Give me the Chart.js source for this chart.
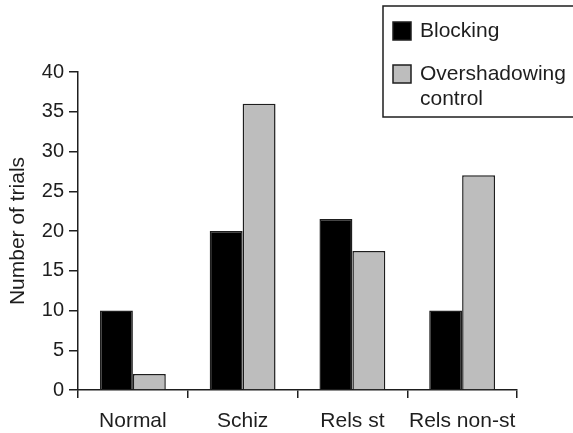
<!DOCTYPE html>
<html>
<head>
<meta charset="utf-8">
<script src="https://cdn.jsdelivr.net/npm/chart.js@4.4.1/dist/chart.umd.min.js"></script>
<style>
  html, body { margin: 0; padding: 0; background: #fff; }
  #wrap { width: 573px; height: 433px; position: relative; }
</style>
</head>
<body>
<div id="wrap"><canvas id="chart" width="573" height="433"></canvas></div>
<script>
// data
const groups = ["Normal", "Schiz", "Rels st", "Rels non-st"];
const blocking = [10, 20, 21.5, 10];
const overshadowing = [2, 36, 17.5, 27];
const yTicks = [0, 5, 10, 15, 20, 25, 30, 35, 40];
const seriesNames = [["Blocking"], ["Overshadowing", "control"]];

const FONT = "'Liberation Sans', Arial, Helvetica, sans-serif";
const INK = "#1e1e1e";

// boxed legend in the top right corner (runs off the right edge)
const boxLegend = {
  id: "boxLegend",
  afterDraw(chart) {
    const ctx = chart.ctx;
    ctx.save();
    ctx.strokeStyle = INK;
    ctx.lineWidth = 1.5;
    ctx.strokeRect(383, 6, 230, 111);
    ctx.font = "21px " + FONT;
    ctx.textBaseline = "middle";
    let y = 31;
    chart.data.datasets.forEach((ds, i) => {
      ctx.fillStyle = ds.backgroundColor;
      ctx.fillRect(393, y - 9, 18, 18);
      ctx.strokeStyle = INK;
      ctx.lineWidth = 1.5;
      ctx.strokeRect(393, y - 9, 18, 18);
      ctx.fillStyle = INK;
      seriesNames[i].forEach((line, j) => {
        ctx.fillText(line, 420, y + j * 25);
      });
      y += 43;
    });
    ctx.restore();
  }
};

new Chart(document.getElementById("chart"), {
  type: "bar",
  data: {
    labels: groups,
    datasets: [
      {
        label: "Blocking",
        data: blocking,
        backgroundColor: "#000000",
        borderColor: INK,
        borderWidth: 1.5,
        categoryPercentage: 0.6,
        barPercentage: 1.0
      },
      {
        label: "Overshadowing control",
        data: overshadowing,
        backgroundColor: "#bdbdbd",
        borderColor: INK,
        borderWidth: 1.5,
        categoryPercentage: 0.6,
        barPercentage: 1.0
      }
    ]
  },
  options: {
    responsive: false,
    animation: false,
    layout: { padding: { top: 72, right: 56, left: 0, bottom: 0 } },
    plugins: {
      legend: { display: false },
      tooltip: { enabled: false }
    },
    scales: {
      x: {
        offset: true,
        grid: {
          offset: true,
          drawOnChartArea: false,
          drawTicks: true,
          tickLength: 8,
          color: INK,
          lineWidth: 1.5
        },
        border: { display: true, color: INK, width: 1.5 },
        ticks: {
          color: INK,
          font: { family: FONT, size: 21 },
          padding: 11,
          autoSkip: false,
          maxRotation: 0,
          minRotation: 0
        },
        afterFit(scale) { scale.height = 43; }
      },
      y: {
        min: 0,
        max: 40,
        afterBuildTicks(scale) { scale.ticks = yTicks.map(v => ({ value: v })); },
        grid: {
          drawOnChartArea: false,
          drawTicks: true,
          tickLength: 9,
          color: INK,
          lineWidth: 1.5
        },
        border: { display: true, color: INK, width: 1.5 },
        ticks: { color: INK, font: { family: FONT, size: 20 }, padding: 5 },
        title: {
          display: true,
          text: "Number of trials",
          color: INK,
          font: { family: FONT, size: 21 },
          padding: { top: 6, bottom: 0 }
        },
        afterFit(scale) { scale.width = 78; }
      }
    }
  },
  plugins: [boxLegend]
});
</script>
</body>
</html>
